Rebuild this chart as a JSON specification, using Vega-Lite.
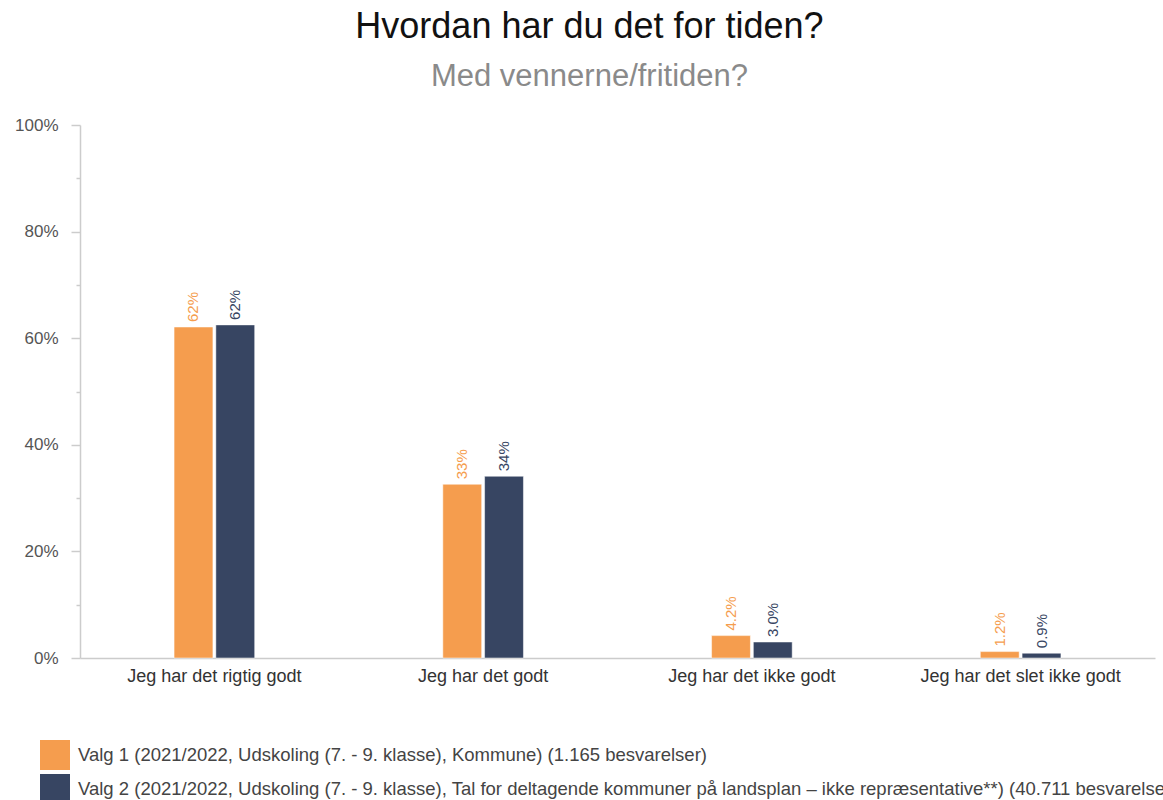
{
  "$schema": "https://vega.github.io/schema/vega-lite/v6.json",
  "width": 1075,
  "height": 533,
  "autosize": {"type": "none"},
  "padding": {"left": 80, "top": 125, "right": 8, "bottom": 142},
  "background": "white",
  "title": {
    "text": "Hvordan har du det for tiden?",
    "subtitle": "Med vennerne/fritiden?",
    "anchor": "middle",
    "frame": "group",
    "dx": -28,
    "offset": 23,
    "font": "Liberation Sans",
    "fontSize": 36,
    "fontWeight": "normal",
    "color": "#111111",
    "subtitleFont": "Liberation Sans",
    "subtitleFontSize": 31,
    "subtitleColor": "#8a8a8a",
    "subtitlePadding": 16
  },
  "data": {
    "values": [
      {"kategori": "Jeg har det rigtig godt", "gruppe": "Valg 1 (2021/2022, Udskoling (7. - 9. klasse), Kommune) (1.165 besvarelser)", "andel": 0.621, "label": "62%"},
      {"kategori": "Jeg har det rigtig godt", "gruppe": "Valg 2 (2021/2022, Udskoling (7. - 9. klasse), Tal for deltagende kommuner på landsplan – ikke repræsentative**) (40.711 besvarelser)", "andel": 0.625, "label": "62%"},
      {"kategori": "Jeg har det godt", "gruppe": "Valg 1 (2021/2022, Udskoling (7. - 9. klasse), Kommune) (1.165 besvarelser)", "andel": 0.326, "label": "33%"},
      {"kategori": "Jeg har det godt", "gruppe": "Valg 2 (2021/2022, Udskoling (7. - 9. klasse), Tal for deltagende kommuner på landsplan – ikke repræsentative**) (40.711 besvarelser)", "andel": 0.341, "label": "34%"},
      {"kategori": "Jeg har det ikke godt", "gruppe": "Valg 1 (2021/2022, Udskoling (7. - 9. klasse), Kommune) (1.165 besvarelser)", "andel": 0.042, "label": "4.2%"},
      {"kategori": "Jeg har det ikke godt", "gruppe": "Valg 2 (2021/2022, Udskoling (7. - 9. klasse), Tal for deltagende kommuner på landsplan – ikke repræsentative**) (40.711 besvarelser)", "andel": 0.030, "label": "3.0%"},
      {"kategori": "Jeg har det slet ikke godt", "gruppe": "Valg 1 (2021/2022, Udskoling (7. - 9. klasse), Kommune) (1.165 besvarelser)", "andel": 0.012, "label": "1.2%"},
      {"kategori": "Jeg har det slet ikke godt", "gruppe": "Valg 2 (2021/2022, Udskoling (7. - 9. klasse), Tal for deltagende kommuner på landsplan – ikke repræsentative**) (40.711 besvarelser)", "andel": 0.009, "label": "0.9%"}
    ]
  },
  "encoding": {
    "x": {
      "field": "kategori",
      "type": "nominal",
      "sort": null,
      "scale": {"paddingInner": 0.7, "paddingOuter": 0.35},
      "axis": {
        "title": null,
        "labelAngle": 0,
        "ticks": false,
        "labelPadding": 9,
        "labelFont": "Liberation Sans",
        "labelFontSize": 18,
        "labelColor": "#333333",
        "domainColor": "#cccccc",
        "domainWidth": 1.5,
        "labelLimit": 300
      }
    },
    "xOffset": {
      "field": "gruppe",
      "type": "nominal",
      "sort": null,
      "scale": {"paddingInner": 0.07}
    },
    "y": {
      "field": "andel",
      "type": "quantitative",
      "scale": {"domain": [0, 1], "nice": false},
      "axis": {
        "title": null,
        "grid": false,
        "values": [0, 0.1, 0.2, 0.3, 0.4, 0.5, 0.6, 0.7, 0.8, 0.9, 1.0],
        "labelExpr": "round(datum.value*100) % 20 === 0 ? format(datum.value, '.0%') : ''",
        "labelOverlap": false,
        "tickSize": {"condition": {"test": "round(datum.value*100) % 20 === 0", "value": 9}, "value": 4},
        "tickColor": "#cccccc",
        "tickWidth": 1.5,
        "domainColor": "#cccccc",
        "domainWidth": 1.5,
        "labelPadding": 13,
        "labelFont": "Liberation Sans",
        "labelFontSize": 17,
        "labelColor": "#555555"
      }
    },
    "color": {
      "field": "gruppe",
      "type": "nominal",
      "sort": null,
      "scale": {"range": ["#F59D4E", "#374562"]},
      "legend": {
        "title": null,
        "orient": "none",
        "legendX": -40,
        "legendY": 615,
        "symbolType": "square",
        "symbolSize": 900,
        "symbolStrokeWidth": 0,
        "symbolOpacity": 1,
        "rowPadding": 4,
        "labelFont": "Liberation Sans",
        "labelFontSize": 18.5,
        "labelColor": "#444444",
        "labelLimit": 1300,
        "labelOffset": 8
      }
    }
  },
  "layer": [
    {"mark": {"type": "bar", "stroke": "white", "strokeWidth": 0.5}},
    {
      "mark": {
        "type": "text",
        "angle": 270,
        "align": "left",
        "baseline": "middle",
        "dx": 5,
        "font": "Liberation Sans",
        "fontSize": 15
      },
      "encoding": {"text": {"field": "label"}}
    }
  ],
  "config": {"view": {"stroke": null}}
}
